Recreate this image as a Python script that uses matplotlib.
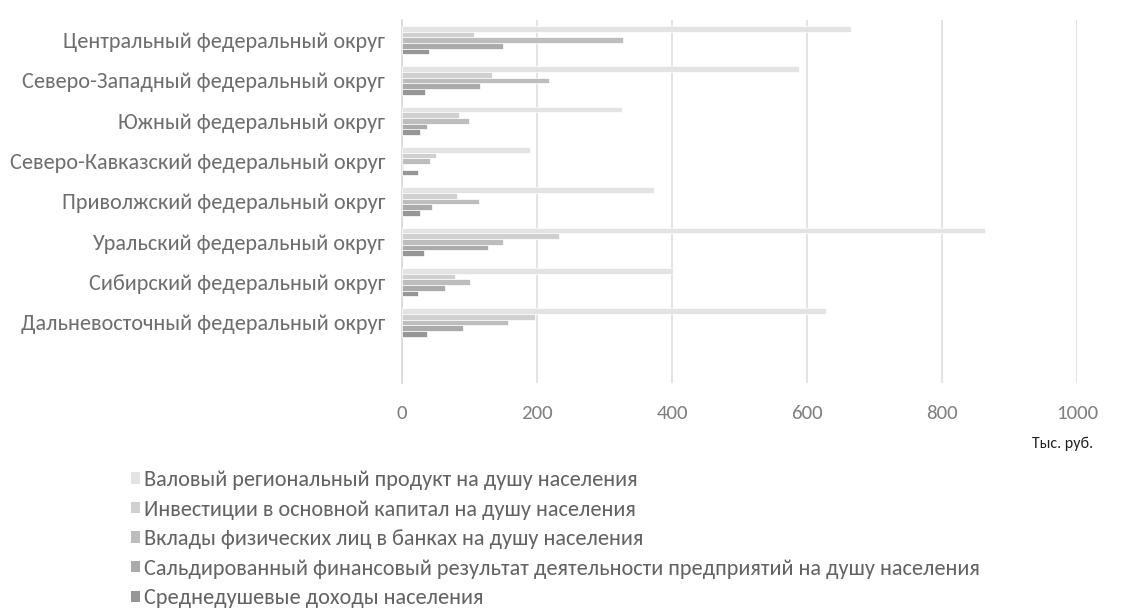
import numpy as np
import matplotlib.pyplot as plt
from matplotlib.patches import Patch

plt.rcParams['font.family'] = ['Carlito', 'DejaVu Sans']

# Federal districts, top to bottom
districts = [
    'Центральный федеральный округ',
    'Северо-Западный федеральный округ',
    'Южный федеральный округ',
    'Северо-Кавказский федеральный округ',
    'Приволжский федеральный округ',
    'Уральский федеральный округ',
    'Сибирский федеральный округ',
    'Дальневосточный федеральный округ',
]

series_names = [
    'Валовый региональный продукт на душу населения',
    'Инвестиции в основной капитал на душу населения',
    'Вклады физических лиц в банках на душу населения',
    'Сальдированный финансовый результат деятельности предприятий на душу населения',
    'Среднедушевые доходы населения',
]

# Values, thousand roubles per person
grp = [665, 588, 326, 190, 373, 864, 401, 628]
invest = [106, 134, 84, 51, 81, 232, 78, 197]
deposits = [328, 218, 99, 41, 114, 149, 101, 157]
fin_result = [149, 115, 37, 2, 45, 128, 63, 90]
income = [40, 34, 27, 24, 26, 33, 24, 37]

series = [grp, invest, deposits, fin_result, income]
colors = ['#e3e3e3', '#d0d0d0', '#bdbdbd', '#ababab', '#969696']

fig = plt.figure(figsize=(11.23, 6.08), dpi=100)
ax = fig.add_axes([402 / 1123, (608 - 383) / 608, 675 / 1123, 363 / 608])

n = len(series)
group_h = 0.70
bar_h = group_h / n
y = np.arange(len(districts))
for i, (vals, col) in enumerate(zip(series, colors)):
    ax.barh(y - group_h / 2 + bar_h * (i + 0.5), vals, height=bar_h,
            color=col, edgecolor='white', linewidth=0.5, zorder=3)

ax.set_xlim(0, 1000)
ax.set_ylim(8.5, -0.5)
ax.set_yticks(y)
ax.set_yticklabels(districts, fontsize=16, color='#6e6e6e')
ax.set_xticks(np.arange(0, 1001, 200))
ax.tick_params(axis='x', labelsize=15, labelcolor='#808080', length=0, pad=16)
ax.tick_params(axis='y', length=0, pad=12)
ax.grid(axis='x', color='#dedede', linewidth=1.2, zorder=0)
for side in ['top', 'right', 'bottom']:
    ax.spines[side].set_visible(False)
ax.spines['left'].set_color('#d9d9d9')
ax.spines['left'].set_linewidth(1.2)

fig.text(1093 / 1123, 1 - 444 / 608, 'Тыс. руб.', ha='right', va='center',
         fontsize=11.5, color='#202020')

handles = [Patch(facecolor=c, edgecolor='none') for c in colors]
fig.legend(handles, series_names, loc='upper left',
           bbox_to_anchor=(131 / 1123, 1 - 470 / 608), frameon=False,
           borderpad=0, borderaxespad=0,
           fontsize=16, labelcolor='#636363', handlelength=0.42,
           handleheight=0.42, handletextpad=0.15, labelspacing=0.43)

fig.savefig('out.png', dpi=100)
